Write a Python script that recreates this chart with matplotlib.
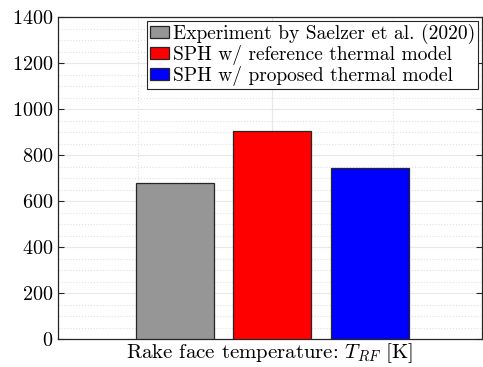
import matplotlib
matplotlib.use("Agg")
import matplotlib.pyplot as plt
from matplotlib.ticker import MultipleLocator

plt.rcParams['font.family'] = 'serif'
plt.rcParams['font.serif'] = ['cmr10']
plt.rcParams['mathtext.fontset'] = 'cm'
plt.rcParams['axes.formatter.use_mathtext'] = True

labels = ["Experiment by Saelzer et al. (2020)",
          "SPH w/ reference thermal model",
          "SPH w/ proposed thermal model"]
values = [680, 905, 745]
positions = [1, 2, 3]
colors = ["#969696", "#ff0000", "#0000ff"]

fig = plt.figure(figsize=(4.83, 3.67), dpi=100)
ax = fig.add_axes([58 / 483, 28 / 367, 424 / 483, 322 / 367])

for p, v, c, lab in zip(positions, values, colors, labels):
    ax.bar(p, v, width=0.8, color=c, edgecolor="#262626", linewidth=0.9, label=lab, zorder=3)

ax.set_xlim(-0.2, 4.15)
ax.set_ylim(0, 1400)
ax.yaxis.set_major_locator(MultipleLocator(200))
ax.yaxis.set_minor_locator(MultipleLocator(50))
ax.set_xticks([2])
ax.set_xticklabels([""])
ax.set_xticks([0.62, 3.24], minor=True)

ax.grid(True, which="major", color="#e8e8e8", linewidth=0.8, zorder=0)
ax.grid(True, which="minor", color="#e0e0e0", linestyle=":", linewidth=0.8, zorder=0)
ax.set_axisbelow(True)

ax.tick_params(axis="both", which="both", direction="in", right=True, top=False,
               labelsize=14.5, color="#262626")
ax.tick_params(which="major", length=4)
ax.tick_params(which="minor", length=0)
for s in ax.spines.values():
    s.set_color("#262626")
    s.set_linewidth(0.9)

ax.set_xlabel(r"Rake face temperature: $T_{RF}$ [K]", fontsize=15, labelpad=-2)

leg = ax.legend(loc="upper right", fontsize=14, frameon=True, fancybox=False,
                edgecolor="#262626", framealpha=1, borderpad=0.15, labelspacing=0.05,
                handlelength=1.0, handleheight=0.6, handletextpad=0.2,
                borderaxespad=0.2)
leg.get_frame().set_linewidth(0.8)

fig.savefig("out.png", dpi=100)
